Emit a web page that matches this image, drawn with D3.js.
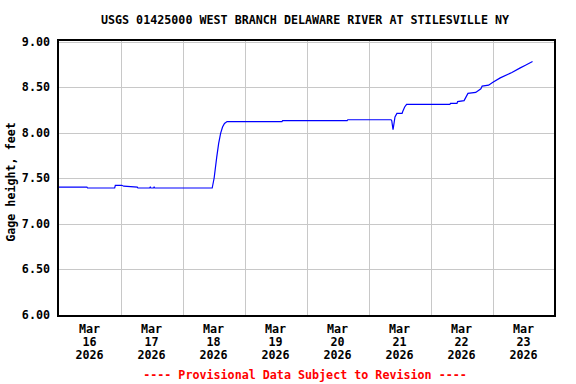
<!DOCTYPE html>
<html>
<head>
<meta charset="utf-8">
<script src="https://cdn.jsdelivr.net/npm/d3@7"></script>
<style>
  body { margin: 0; background: #fff; }
  text { font-family: "DejaVu Sans Mono", monospace; font-weight: bold; font-size: 11.7px; }
</style>
</head>
<body>
<svg id="chart" width="576" height="384"></svg>
<script>
// gage height readings
var times = [
  "2026-03-16 00:00", "2026-03-16 11:00", "2026-03-16 11:15", "2026-03-16 21:45",
  "2026-03-16 22:00", "2026-03-17 00:30", "2026-03-17 01:15", "2026-03-17 06:30",
  "2026-03-17 06:45", "2026-03-17 11:15", "2026-03-17 11:30", "2026-03-17 11:45",
  "2026-03-17 12:45", "2026-03-17 13:00", "2026-03-17 13:15", "2026-03-17 18:30",
  "2026-03-17 18:45", "2026-03-18 11:30", "2026-03-18 12:15", "2026-03-18 13:15",
  "2026-03-18 14:00", "2026-03-18 14:45", "2026-03-18 15:30", "2026-03-18 16:15",
  "2026-03-18 17:15", "2026-03-19 14:30", "2026-03-19 14:45", "2026-03-20 15:45",
  "2026-03-20 16:00", "2026-03-21 08:45", "2026-03-21 09:00", "2026-03-21 09:30",
  "2026-03-21 10:15", "2026-03-21 11:00", "2026-03-21 13:00", "2026-03-21 13:15",
  "2026-03-21 14:00", "2026-03-21 14:45", "2026-03-22 07:30", "2026-03-22 07:45",
  "2026-03-22 10:15", "2026-03-22 10:30", "2026-03-22 13:00", "2026-03-22 14:30",
  "2026-03-22 17:30", "2026-03-22 19:30", "2026-03-22 20:00", "2026-03-22 22:30",
  "2026-03-23 00:00", "2026-03-23 03:00", "2026-03-23 07:30", "2026-03-23 10:45",
  "2026-03-23 12:45", "2026-03-23 15:30"
];
var heights = [
  7.40, 7.40, 7.39, 7.39,
  7.42, 7.42, 7.41, 7.40,
  7.39, 7.39, 7.40, 7.39,
  7.39, 7.40, 7.39, 7.39,
  7.39, 7.39, 7.50, 7.73,
  7.88, 7.99, 8.06, 8.10,
  8.12, 8.12, 8.13, 8.13,
  8.14, 8.14, 8.13, 8.03,
  8.17, 8.21, 8.21, 8.23,
  8.28, 8.31, 8.31, 8.32,
  8.32, 8.34, 8.35, 8.43,
  8.44, 8.48, 8.51, 8.52,
  8.55, 8.60, 8.66, 8.71,
  8.74, 8.78
];
var yTicks = [6.0, 6.5, 7.0, 7.5, 8.0, 8.5, 9.0];
var dayLabels = ["16", "17", "18", "19", "20", "21", "22", "23"];

var title = "USGS 01425000 WEST BRANCH DELAWARE RIVER AT STILESVILLE NY";
var yTitle = "Gage height, feet";
var footer = "---- Provisional Data Subject to Revision ----";

var parse = d3.timeParse("%Y-%m-%d %H:%M");
var data = times.map(function(t, i) { return {t: parse(t), v: heights[i]}; });

var svg = d3.select("#chart");

var x = d3.scaleTime()
    .domain([parse("2026-03-16 00:00"), parse("2026-03-24 00:00")])
    .range([58.5, 554.5]);

var y = d3.scaleLinear()
    .domain([6, 9])
    .range([314.5, 41.5]);

// grid
var days = d3.timeDay.range(parse("2026-03-17 00:00"), parse("2026-03-24 00:00"));
svg.append("g").selectAll("line").data(days).enter().append("line")
    .attr("x1", function(d) { return Math.round(x(d)) + 0.5; })
    .attr("x2", function(d) { return Math.round(x(d)) + 0.5; })
    .attr("y1", 40).attr("y2", 316)
    .attr("stroke", "#c8c8c8");

svg.append("g").selectAll("line").data(yTicks).enter().append("line")
    .attr("x1", 58).attr("x2", 555)
    .attr("y1", function(d) { return Math.round(y(d)) + 0.5; })
    .attr("y2", function(d) { return Math.round(y(d)) + 0.5; })
    .attr("stroke", "#c8c8c8");

// the series
var line = d3.line()
    .x(function(d) { return x(d.t); })
    .y(function(d) { return y(d.v); });

svg.append("path")
    .datum(data)
    .attr("d", line)
    .attr("fill", "none")
    .attr("stroke", "#0000ff")
    .attr("stroke-width", 1.2);

// frame
svg.append("rect")
    .attr("x", 58).attr("y", 40)
    .attr("width", 497).attr("height", 276)
    .attr("fill", "none")
    .attr("stroke", "#000")
    .attr("stroke-width", 2);

// y labels
svg.append("g").selectAll("text").data(yTicks).enter().append("text")
    .attr("x", 50)
    .attr("y", function(d) { return y(d) + 4; })
    .attr("text-anchor", "end")
    .text(function(d) { return d3.format(".2f")(d); });

svg.append("text")
    .attr("transform", "translate(15,182) rotate(-90)")
    .attr("text-anchor", "middle")
    .text(yTitle);

// x labels, centred at noon of each day
var xl = svg.append("g").selectAll("g").data(dayLabels).enter().append("g")
    .attr("transform", function(d) {
      return "translate(" + x(parse("2026-03-" + d + " 12:00")) + ",0)";
    });
xl.append("text").attr("y", 333).attr("text-anchor", "middle").text("Mar");
xl.append("text").attr("y", 346).attr("text-anchor", "middle").text(function(d) { return d; });
xl.append("text").attr("y", 359).attr("text-anchor", "middle").text("2026");

svg.append("text")
    .attr("x", 305).attr("y", 24)
    .attr("text-anchor", "middle")
    .text(title);

svg.append("text")
    .attr("x", 305).attr("y", 379)
    .attr("text-anchor", "middle")
    .attr("fill", "#ff0000")
    .text(footer);
</script>
</body>
</html>
